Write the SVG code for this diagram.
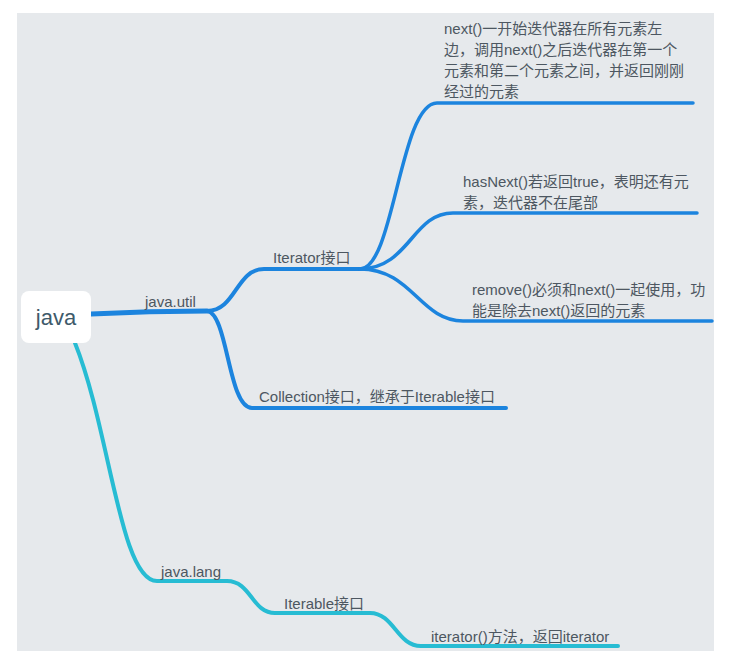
<svg xmlns="http://www.w3.org/2000/svg" width="737" height="657" viewBox="0 0 737 657">
<style>
.t{font-family:"Liberation Sans","Noto Sans CJK SC",sans-serif;font-size:15px;fill:#4d5761}
.b{fill:none;stroke:#1c84de;stroke-linecap:round;stroke-linejoin:round}
.c{fill:none;stroke:#27bcd3;stroke-width:4;stroke-linecap:round;stroke-linejoin:round}
</style>
<rect x="0" y="0" width="737" height="657" fill="#ffffff"/>
<rect x="17" y="13" width="697" height="638" fill="#e6e9ec"/>
<g id="connectors">
<path class="b" stroke-width="5" d="M91,314 C130,312 160,311 207,311"/>
<path class="b" stroke-width="4" d="M207,311 C236,311 236,269 264,269 L360,269"/>
<path class="b" stroke-width="4" d="M207,311 C228,313 228,408 252,408 L506,408"/>
<path class="b" stroke-width="3.5" d="M360,269 C394,269 400,103 437,103 L693,103"/>
<path class="b" stroke-width="3.5" d="M360,269 C410,268 412,213 453,213 L697,213"/>
<path class="b" stroke-width="3.5" d="M360,269 C412,269 420,321 463,321 L712,321"/>
<path class="c" d="M75,343 C110,430 120,581 157,581 L227,581 C251,581 252,613 275,613 L370,613 C394,613 397,646 421,646 L618,646"/>
</g>
<g id="java">
<rect x="21" y="291" width="70" height="52" rx="8" fill="#ffffff"/>
<text x="56" y="325" text-anchor="middle" style="font-family:'Liberation Sans',sans-serif;font-size:22px;fill:#3e5a6a">java</text>
</g>
<g id="java-util"><text class="t" x="145" y="307">java.util</text></g>
<g id="iterator-if"><text class="t" x="273" y="263">Iterator接口</text></g>
<g id="next">
<text class="t" x="444" y="33.5">next()一开始迭代器在所有元素左<tspan x="444" dy="21.3">边，调用next()之后迭代器在第一个</tspan><tspan x="444" dy="21.3">元素和第二个元素之间，并返回刚刚</tspan><tspan x="444" dy="21.3">经过的元素</tspan></text>
</g>
<g id="hasnext">
<text class="t" x="463" y="187">hasNext()若返回true，表明还有元<tspan x="463" dy="21">素，迭代器不在尾部</tspan></text>
</g>
<g id="remove">
<text class="t" x="472" y="295">remove()必须和next()一起使用，功<tspan x="472" dy="21">能是除去next()返回的元素</tspan></text>
</g>
<g id="collection"><text class="t" x="259" y="402">Collection接口，继承于Iterable接口</text></g>
<g id="java-lang"><text class="t" x="161" y="577">java.lang</text></g>
<g id="iterable-if"><text class="t" x="284" y="609">Iterable接口</text></g>
<g id="iterator-method"><text class="t" x="431" y="642">iterator()方法，返回iterator</text></g>
</svg>
